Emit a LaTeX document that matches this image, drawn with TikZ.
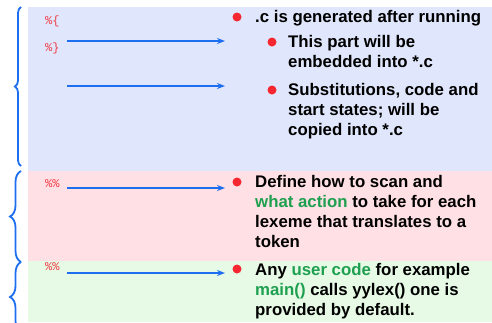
\documentclass[tikz,border=0pt]{standalone}
\usepackage{fontspec}
\setmainfont{Liberation Sans}
\newfontfamily\codefont{Liberation Mono}
\usetikzlibrary{decorations.pathreplacing,arrows.meta}
\definecolor{bgblue}{RGB}{224,230,251}
\definecolor{bgpink}{RGB}{255,224,228}
\definecolor{bggreen}{RGB}{230,250,230}
\definecolor{linkblue}{RGB}{30,110,240}
\definecolor{bulletred}{RGB}{245,40,50}
\definecolor{kwgreen}{RGB}{30,160,80}
\definecolor{codered}{RGB}{240,60,70}
\newcommand{\mlines}[1]{\parbox[t]{230pt}{\raggedright #1}}
\begin{document}
\begin{tikzpicture}[x=1pt,y=-1pt,
 txt/.style={anchor=base west, inner sep=0pt, font=\fontsize{16.8}{20}\selectfont\bfseries},
 code/.style={anchor=base west, inner sep=0pt, text=codered, font=\codefont\fontsize{12}{14}\selectfont},
 bul/.style={circle, fill=bulletred, inner sep=0pt, minimum size=9pt},
 arr/.style={draw=linkblue, line width=1.6pt, -{Stealth[length=8pt,width=6pt]}},
 brc/.style={draw=linkblue, line width=1.8pt, decorate, decoration={brace, amplitude=#1}},
]
\useasboundingbox (0,0) rectangle (492,322);
\fill[bgblue] (28,7) rectangle (492,171);
\fill[bgpink] (28,171) rectangle (492,261);
\fill[bggreen] (28,261) rectangle (492,322);

\draw[brc=6] (21,166) -- (21,7);
\draw[brc=11] (21,262) -- (21,171);
\draw[brc=11] (21,332) -- (21,262);

\node[code] (c1) at (45,24) {\%\{};
\node[code] (c2) at (45,51) {\%\}};
\node[code] (c3) at (45,187) {\%\%};
\node[code] (c4) at (45,270) {\%\%};

\coordinate (a1s) at (67,41);  \coordinate (a1e) at (225,41);
\coordinate (a2s) at (67,86);  \coordinate (a2e) at (225,86);
\coordinate (a3s) at (67,188); \coordinate (a3e) at (225,188);
\coordinate (a4s) at (67,273); \coordinate (a4e) at (225,273);
\draw[arr] (a1s) -- (a1e);
\draw[arr] (a2s) -- (a2e);
\draw[arr] (a3s) -- (a3e);
\draw[arr] (a4s) -- (a4e);

\node[bul] (b1) at (237,17) {};
\node[txt] (t1) at (255,22) {.c is generated after running};
\node[bul] (b2) at (272,42) {};
\node[txt] (t2) at (288,47) {\mlines{This part will be\\embedded into *.c}};
\node[bul] (b3) at (272,90) {};
\node[txt] (t3) at (288,95) {\mlines{Substitutions, code and\\start states; will be\\copied into *.c}};

\node[bul] (b4) at (237,182) {};
\node[txt] (t4) at (255,187) {\mlines{Define how to scan and\\\textcolor{kwgreen}{what action} to take for each\\lexeme that translates to a\\token}};

\node[bul] (b5) at (237,269) {};
\node[txt] (t5) at (255,275) {\mlines{Any \textcolor{kwgreen}{user code} for example\\\textcolor{kwgreen}{main()} calls yylex() one is\\provided by default.}};
\end{tikzpicture}
\end{document}
